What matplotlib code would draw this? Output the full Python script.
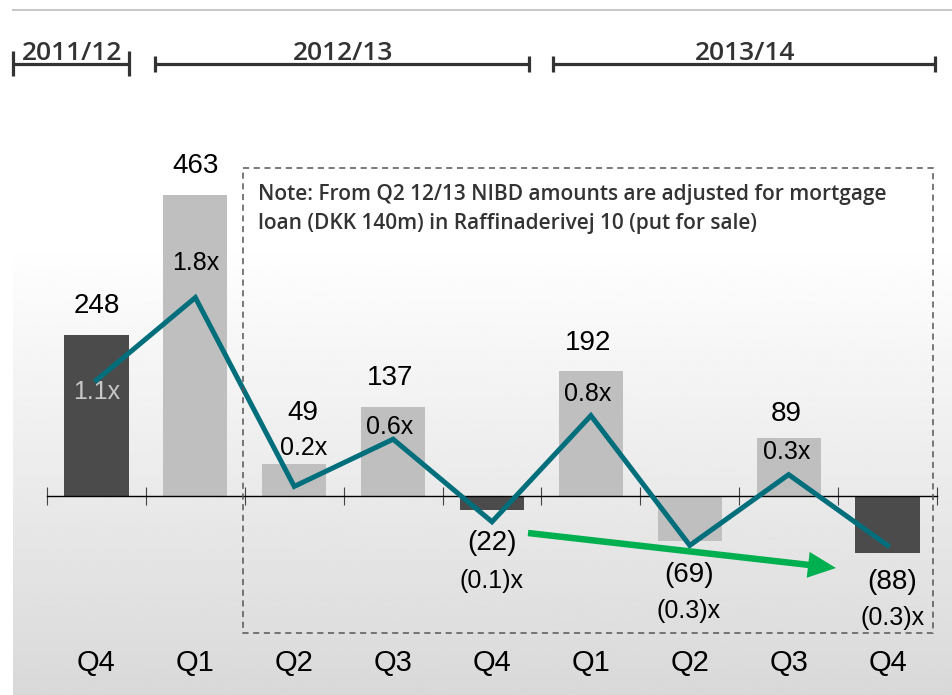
import numpy as np
import matplotlib
matplotlib.use("Agg")
from matplotlib import pyplot as plt
from matplotlib.patches import Rectangle, FancyArrow

# chart data
quarters = ["Q4", "Q1", "Q2", "Q3", "Q4", "Q1", "Q2", "Q3", "Q4"]
nibd = [248, 463, 49, 137, -22, 192, -69, 89, -88]
ratio = [1.1, 1.8, 0.2, 0.6, -0.1, 0.8, -0.3, 0.3, -0.3]
ratio_labels = ["1.1x", "1.8x", "0.2x", "0.6x", "(0.1)x", "0.8x", "(0.3)x", "0.3x", "(0.3)x"]
nibd_labels = ["248", "463", "49", "137", "(22)", "192", "(69)", "89", "(88)"]
dark_bar = [True, False, False, False, True, False, False, False, True]
periods = ["2011/12", "2012/13", "2013/14"]
note = ["Note: From Q2 12/13 NIBD amounts are adjusted for mortgage",
        "loan (DKK 140m) in Raffinaderivej 10 (put for sale)"]

# label placement (pixels from bar end, + is up)
val_dy = [29, 29, 51, 29, -33, 28, -34, 24, -29]
rat_dy = [-57, -68, 16, -20, -71, -23, -70, -14, -65]
lab_dx = [0, 0, 9, -3, 0, -3, -1, -2, 5]

W, H = 953, 695
fig = plt.figure(figsize=(W / 100, H / 100), dpi=100)

# background with grey gradient
bg = fig.add_axes([0, 0, 1, 1])
bg.set_xlim(0, W)
bg.set_ylim(H, 0)
bg.axis("off")
grad = np.linspace(1.0, 0.85, 256)[:, None]
bg.imshow(grad, extent=(13, W, H, 242), aspect="auto", cmap="gray", vmin=0, vmax=1)
bg.plot([13, W], [10, 10], color="#c8c8c8", lw=1.5)

# main bar axes, zero line at y=496px
top_px, bot_px = 150, 600
ax = fig.add_axes([47 / W, (H - bot_px) / H, 890 / W, (bot_px - top_px) / H])
ax.patch.set_alpha(0)
px_per_unit = 0.65
ax.set_ylim(-(bot_px - 496) / px_per_unit, (496 - top_px) / px_per_unit)
ax.set_xlim(-0.5, 8.5)
x = np.arange(len(quarters))
colors = ["#4b4b4b" if d else "#bfbfbf" for d in dark_bar]
ax.bar(x, nibd, width=0.65, color=colors, zorder=2)

for s in ["top", "right", "left"]:
    ax.spines[s].set_visible(False)
ax.spines["bottom"].set_position(("data", 0))
ax.spines["bottom"].set_color("black")
ax.spines["bottom"].set_linewidth(1)
ax.spines["bottom"].set_zorder(3)
ax.set_yticks([])
ax.set_xticks(np.arange(-0.5, 9, 1))
ax.set_xticklabels([])
ax.tick_params(axis="x", direction="inout", length=13, width=0.8, color="#444444")

pt = 0.72  # points per pixel
for i, v in enumerate(nibd):
    ax.annotate(nibd_labels[i], xy=(i, v), xytext=(lab_dx[i] * pt, val_dy[i] * pt),
                textcoords="offset points", ha="center", va="center",
                fontsize=20, family="Liberation Sans", color="black", zorder=5)
    ax.annotate(ratio_labels[i], xy=(i, v), xytext=(lab_dx[i] * pt, rat_dy[i] * pt),
                textcoords="offset points", ha="center", va="center",
                fontsize=18, family="Liberation Sans",
                color="#c8c8c8" if i == 0 else "black", zorder=5)
    ax.annotate(quarters[i], xy=(i, 0), xytext=(0, -166.5 * pt),
                textcoords="offset points", ha="center", va="center",
                fontsize=21, family="Liberation Sans", color="black")

# ratio line on its own scale
ax2 = ax.twinx()
ax2.patch.set_alpha(0)
ax2.set_ylim(-(bot_px - 510) / 118, (510 - top_px) / 118)
ax2.plot(x, ratio, color="#006e7b", lw=3.6, solid_joinstyle="miter", zorder=4)
ax2.axis("off")

# overlay for headers, note box and arrow
ov = fig.add_axes([0, 0, 1, 1])
ov.set_xlim(0, W)
ov.set_ylim(H, 0)
ov.axis("off")
ov.patch.set_alpha(0)

hdr = "#333333"
brackets = [(13, 129, 51, 76), (155, 529, 56, 72), (553, 935, 56, 72)]
for name, (x0, x1, t0, t1) in zip(periods, brackets):
    ov.plot([x0, x1], [64, 64], color=hdr, lw=2.3, solid_capstyle="butt")
    ov.plot([x0, x0], [t0, t1], color=hdr, lw=2.3, solid_capstyle="butt")
    ov.plot([x1, x1], [t0, t1], color=hdr, lw=2.3, solid_capstyle="butt")
    ov.text((x0 + x1) / 2 + 1, 60, name, ha="center", va="baseline",
            fontsize=19, family="Open Sans", weight="semibold", color=hdr)

ov.add_patch(Rectangle((243, 168), 690, 465, fill=False, ec="#555555", lw=1.1,
                       linestyle=(0, (4, 3))))
ov.text(258, 200, note[0], ha="left", va="baseline", fontsize=15,
        family="Open Sans", weight="semibold", color=hdr)
ov.text(258, 229, note[1], ha="left", va="baseline", fontsize=15,
        family="Open Sans", weight="semibold", color=hdr)

ov.add_patch(FancyArrow(528, 533, 308, 35, width=6.5, head_width=26, head_length=28,
                        length_includes_head=True, color="#00b050", lw=0))

fig.savefig("out.png", dpi=100)
